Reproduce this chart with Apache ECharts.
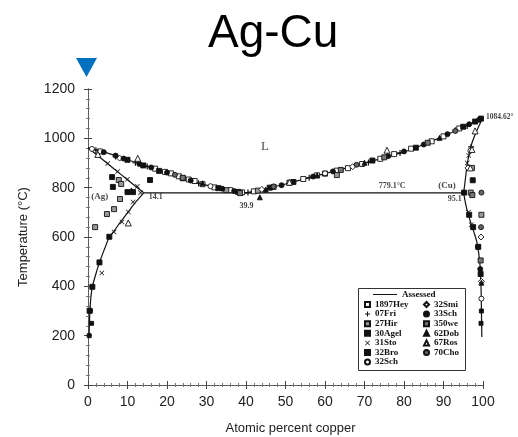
<!DOCTYPE html>
<html>
<head>
<meta charset="utf-8">
<title>Ag-Cu</title>
<script src="https://cdn.jsdelivr.net/npm/echarts@6/dist/echarts.min.js"></script>
<style>
  html, body { margin: 0; padding: 0; background: #fff; }
  #chart { width: 518px; height: 437px; }
</style>
</head>
<body>
<div id="chart"></div>
<script>
// Axis ticks
const xTicks = [0, 10, 20, 30, 40, 50, 60, 70, 80, 90, 100];
const yTicks = [0, 200, 400, 600, 800, 1000, 1200];

// Assessed phase boundaries: [at.% Cu, temperature °C]
const liquidusAg = [[0,961.8],[5,940],[10,913],[15,887],[20,860],[25,834],[30,810],[35,792],[39.9,779.1]];
const liquidusCu = [[39.9,779.1],[45,795],[50,815],[55,836],[60,857],[65,878],[70,900],[75,921],[80,945],[85,975],[90,1009],[95,1045],[100,1084.62]];
const solidusAg = [[0,961.8],[4,910],[8,858],[12,806],[14.1,779.1]];
const solvusAg = [[14.1,779.1],[12,740],[10,698],[8,656],[6.5,622],[5.4,600],[4.2,552],[2.9,497],[1.9,445],[1.1,398],[0.7,350],[0.5,301],[0.35,250],[0.3,198]];
const solidusCu = [[100,1084.62],[98.4,1030],[97.2,981],[96.4,930],[95.9,884],[95.5,830],[95.1,779.1]];
const solvusCu = [[95.1,779.1],[95.8,720],[96.7,669],[97.7,620],[98.5,575],[99.2,494],[99.5,397],[99.6,304],[99.7,195]];

// Invariant reaction: eutectic temperature and phase compositions
const eutecticT = 779.1;
const eutecticX = [14.1, 39.9, 95.1];
const meltCu = [100, 1084.62];

// Experimental data sets
const hey1897 = [[3,947],[17,877],[19.5,864],[21,858],[23,846],[25.5,833],[27,827],[29,814],[32,801],[36,790],[39,781],[42,785],[47,803],[54.5,835],[58,850],[63,869],[65.8,879],[69.4,896],[74,917],[77.5,936],[81.8,958],[87,988],[90,1008],[94,1040]];
const fri07 = [[2,952],[7,926],[12,901],[15,886],[28,818],[40.5,780],[56,840],[71,902],[79,941],[93,1033],[96,1050],[97,965]];
const hir27 = [[1.8,640],[4.8,693],[6.6,713],[8.1,754],[7.8,831],[8.4,815],[35,790],[43,788],[63,851],[96.9,780],[97.2,880],[99.6,690]];
const agel30 = [[0.9,250],[0.3,200],[0.6,300],[99.6,300],[99.5,250]];
const sto31 = [[13.3,779],[11.4,742],[10.2,701],[8.6,661],[6.6,620],[3.5,454],[2.5,930],[5,898],[7.5,866],[10,834],[12.5,806],[96.3,700],[97,650],[96.4,930],[96,900]];
const bro32 = [[6.1,843],[6.3,803],[11.4,782],[10,782],[15.7,831],[5.4,601],[2.9,497],[1.1,398],[0.4,301],[10,913],[14,890],[18,868],[24,838],[33,798],[38,783],[46,800],[52,823],[60,857],[72,910],[83,962],[95,1047],[98,1068],[99.5,1080],[97.4,830],[95.2,780],[96.5,690],[97.5,640],[98.8,560],[99.4,450]];
const sch32 = [[1,957],[31,806],[60,858],[96.8,950],[99.6,350]];
const smi32 = [[8,920],[44,793],[67,885],[96.2,880],[99.5,600],[99.6,420]];
const sch33 = [[4,944],[7,930],[9,918],[13,896],[16,882],[20,861],[26,829],[34,796],[37,786],[49,810],[57,845],[62,866],[76,928],[80,947],[85,975],[91,1017],[96.5,1057],[99,1075],[98.7,560],[99.3,470]];
const we350 = [[24,840],[38.5,778],[51,820],[64,872],[75,923],[86,982],[97.3,770],[99.4,505]];
const dob62 = [[43.5,761],[11,789],[29,818],[45,792],[58,850],[70,901],[89,1002],[99.6,415]];
const ros67 = [[2.5,935],[12.6,919],[10.2,657],[51,822],[75.7,952],[98,1030],[97.2,955],[96.8,880]];
const cho70 = [[22,852],[47,805],[68,893],[93,1030],[99.6,780],[99.5,640]];

// Phase-field labels
const fieldNotes = [[44.8, 965, 'L'], [3.0, 762, '(Ag)'], [90.9, 807, '(Cu)']];

const INK = '#111';
const serif = 'Liberation Serif';
const sans = 'Liberation Sans, Arial';

const sym = {
  plus: 'path://M0,4L10,4L10,6L0,6ZM4,0L6,0L6,10L4,10Z',
  cross: 'path://M0,1L1,0L5,4L9,0L10,1L6,5L10,9L9,10L5,6L1,10L0,9L4,5Z',
  rule: 'path://M0,0L24,0L24,1L0,1Z'
};

const dataSets = [
  { name: '1897Hey', data: hey1897, symbol: 'rect', size: 5, fill: '#fff' },
  { name: '07Fri', data: fri07, symbol: sym.plus, size: 6, fill: INK, border: 0 },
  { name: '27Hir', data: hir27, symbol: 'rect', size: 5, fill: '#999' },
  { name: '30Agel', data: agel30, symbol: 'rect', size: 4, fill: INK },
  { name: '31Sto', data: sto31, symbol: sym.cross, size: 5, fill: INK, border: 0 },
  { name: '32Bro', data: bro32, symbol: 'rect', size: 5, fill: INK },
  { name: '32Sch', data: sch32, symbol: 'circle', size: 5, fill: '#fff' },
  { name: '32Smi', data: smi32, symbol: 'diamond', size: 6, fill: '#fff' },
  { name: '33Sch', data: sch33, symbol: 'circle', size: 5, fill: INK },
  { name: '350we', data: we350, symbol: 'rect', size: 5, fill: '#777' },
  { name: '62Dob', data: dob62, symbol: 'triangle', size: 5, fill: INK },
  { name: '67Ros', data: ros67, symbol: 'triangle', size: 6, fill: '#fff' },
  { name: '70Cho', data: cho70, symbol: 'circle', size: 5, fill: '#666' }
];

const boundaries = [liquidusAg, liquidusCu, solidusAg, solvusAg, solidusCu, solvusCu];

const series = [];
boundaries.forEach(function (pts) {
  series.push({
    name: 'Assessed', type: 'line', data: pts, smooth: 0.3,
    showSymbol: false, symbol: 'none',
    itemStyle: { color: INK },
    lineStyle: { color: INK, width: 1.2 }, z: 2
  });
});
// Eutectic horizontal
series.push({
  name: 'Assessed', type: 'line', symbol: 'none', showSymbol: false,
  data: eutecticX.map(function (x) { return [x, eutecticT]; }),
  itemStyle: { color: INK },
  lineStyle: { color: INK, width: 1.2 }, z: 2
});

dataSets.forEach(function (d) {
  series.push({
    name: d.name, type: 'scatter', data: d.data,
    symbol: d.symbol, symbolSize: d.size,
    itemStyle: { color: d.fill, borderColor: INK, borderWidth: d.border === 0 ? 0 : 0.9, opacity: 1 },
    z: 3
  });
});

// Composition / temperature annotations
const compLabelPos = [[5, 4], [-6, 13], [-16, 6]];
const noteLabel = { show: true, color: INK, fontFamily: serif, fontWeight: 'bold', fontSize: 8 };
series.push({
  name: 'notes', type: 'scatter', symbolSize: 0, silent: true, z: 5,
  data: eutecticX.map(function (x, i) {
    return {
      value: [x, eutecticT],
      label: Object.assign({}, noteLabel, { position: 'inside', offset: compLabelPos[i], align: 'left', formatter: String(x) })
    };
  }).concat([
    { value: [77, eutecticT], label: Object.assign({}, noteLabel, { position: 'top', distance: 3, formatter: eutecticT + '°C' }) },
    { value: meltCu, label: Object.assign({}, noteLabel, { position: 'right', distance: 3, fontSize: 7.5, formatter: meltCu[1] + '°' }) }
  ]).concat(fieldNotes.map(function (n) {
    return {
      value: [n[0], n[1]],
      label: Object.assign({}, noteLabel, { position: 'inside', formatter: n[2], fontSize: n[2] === 'L' ? 13 : 9, fontWeight: n[2] === 'L' ? 'normal' : 'bold' })
    };
  }))
});

const frameLine = { show: true, lineStyle: { color: '#555', width: 1, type: [2, 1] } };
const frameTick = { show: true, inside: true, length: 4, lineStyle: { color: '#444' } };
const frameMinor = { show: true, splitNumber: 5, length: 2, lineStyle: { color: '#777' } };

const legendText = { fontFamily: serif, fontWeight: 'bold', fontSize: 9, color: INK };
const names = dataSets.map(function (d) { return d.name; });

const chart = echarts.init(document.getElementById('chart'), null, { renderer: 'canvas' });
chart.setOption({
  animation: false,
  backgroundColor: '#fff',
  title: {
    text: 'Ag-Cu', left: 203, top: 6,
    textStyle: { fontFamily: sans, fontSize: 46, fontWeight: 'normal', color: '#000' }
  },
  grid: { left: 88, right: 35, top: 89, bottom: 52, outerBoundsMode: 'none' },
  xAxis: [{
    type: 'value', min: xTicks[0], max: xTicks[xTicks.length - 1], interval: 10,
    position: 'bottom',
    name: 'Atomic percent copper', nameLocation: 'middle', nameGap: 37,
    nameTextStyle: { fontFamily: sans, fontSize: 13, color: '#222', padding: [0, 0, 0, 10] },
    axisLine: frameLine, axisTick: frameTick, minorTick: frameMinor, splitLine: { show: false },
    axisLabel: { fontFamily: sans, fontSize: 14, color: '#222', margin: 10 }
  }, {
    type: 'value', min: 0, max: 100, interval: 10, position: 'top',
    axisLine: frameLine, axisTick: frameTick, minorTick: frameMinor, splitLine: { show: false },
    axisLabel: { show: false }
  }],
  yAxis: [{
    type: 'value', min: yTicks[0], max: yTicks[yTicks.length - 1], interval: 200,
    position: 'left',
    name: 'Temperature (°C)', nameLocation: 'middle', nameGap: 58,
    nameTextStyle: { fontFamily: sans, fontSize: 13, color: '#222' },
    axisLine: frameLine, axisTick: frameTick, minorTick: frameMinor, splitLine: { show: false },
    axisLabel: { fontFamily: sans, fontSize: 14, color: '#222', margin: 13, formatter: function (v) { return String(v); } }
  }, {
    type: 'value', min: 0, max: 1200, interval: 200, position: 'right',
    axisLine: frameLine, axisTick: frameTick, minorTick: frameMinor, splitLine: { show: false },
    axisLabel: { show: false }
  }],
  legend: [{
    data: [{ name: 'Assessed', icon: sym.rule }], left: 373, top: 290, padding: 0,
    itemWidth: 24, itemHeight: 1.2, itemGap: 0,
    itemStyle: { color: INK },
    textStyle: legendText, selectedMode: false
  }, {
    data: names.slice(0, 7), orient: 'vertical', left: 364, top: 300, padding: 0,
    itemWidth: 5, itemHeight: 5, itemGap: 0.6, textStyle: legendText, selectedMode: false
  }, {
    data: names.slice(7), orient: 'vertical', left: 423, top: 300, padding: 0,
    itemWidth: 5, itemHeight: 5, itemGap: 0.6, textStyle: legendText, selectedMode: false
  }],
  graphic: [{
    type: 'rect', left: 358, top: 288, z: 1,
    shape: { width: 107, height: 82 },
    style: { fill: '#fff', stroke: '#333', lineWidth: 1 }
  }, {
    // position marker above the axis
    type: 'polygon', z: 10,
    shape: { points: [[76, 58], [97, 58], [86.5, 77]] },
    style: { fill: '#0070C0' }
  }],
  series: series
});
</script>
</body>
</html>
